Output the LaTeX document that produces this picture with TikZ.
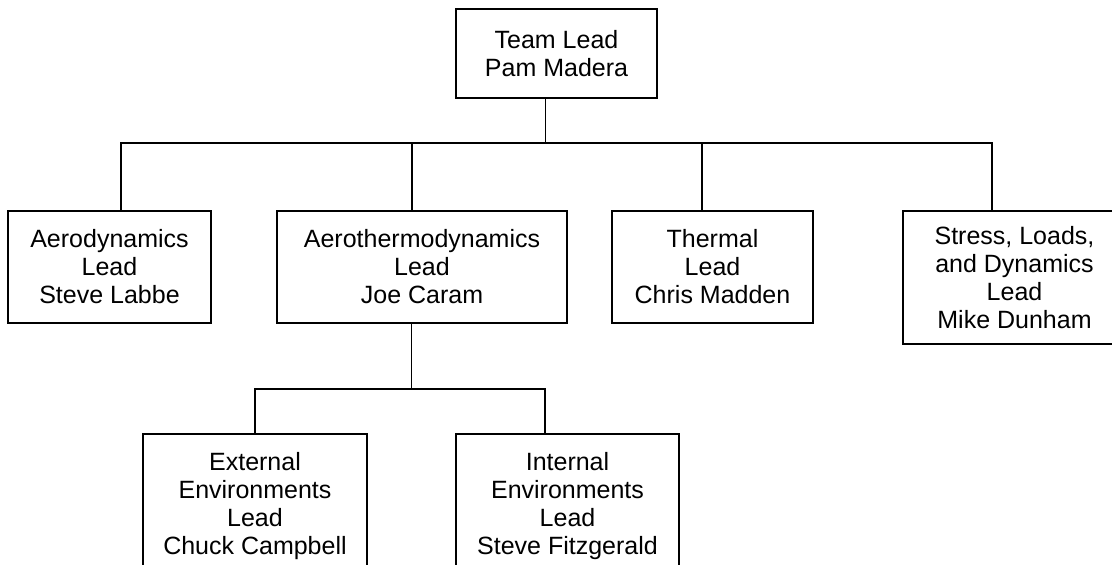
\documentclass[tikz,border=0pt]{standalone}
\usepackage{fontspec}
\setmainfont{Liberation Sans}
\usepackage{tikz}
\usetikzlibrary{positioning,calc}

\begin{document}
\begin{tikzpicture}[
  x=0.5pt, y=-0.5pt,
  box/.style={rectangle, draw=black, line width=0.9pt, fill=white, align=center, inner sep=0pt, font=\fontsize{12.5}{14}\selectfont},
  line/.style={draw=black, line width=0.9pt}
]
  \useasboundingbox (0,0) rectangle (1112,564);
  \clip (0,0) rectangle (1112,564);

  \node[box, minimum width=100.5pt, minimum height=44.5pt] (lead) at (556.5,53.5) {Team Lead\\Pam Madera};

  \node[box, minimum width=101.5pt, minimum height=56pt] (aero) at (109.5,267) {Aerodynamics\\Lead\\Steve Labbe};
  \node[box, minimum width=145pt, minimum height=56pt] (athermo) at (422,267) {Aerothermodynamics\\Lead\\Joe Caram};
  \node[box, minimum width=100.5pt, minimum height=56pt] (thermal) at (712.5,267) {Thermal\\Lead\\Chris Madden};
  \node[box, minimum width=111.5pt, minimum height=66.5pt] (stress) at (1014.5,277.5) {Stress, Loads,\\and Dynamics\\Lead\\Mike Dunham};

  \node[box, minimum width=112pt, minimum height=72pt] (extenv) at (255,506) {External\\Environments\\Lead\\Chuck Campbell};
  \node[box, minimum width=111.5pt, minimum height=72pt] (intenv) at (567.5,506) {Internal\\Environments\\Lead\\Steve Fitzgerald};

  \coordinate (top) at (545.5,143);
  \coordinate (b1) at (121,143);
  \coordinate (b2) at (412,143);
  \coordinate (b3) at (702,143);
  \coordinate (b4) at (992,143);
  \coordinate (sub) at (411.5,389);
  \coordinate (s1) at (255,389);
  \coordinate (s2) at (545,389);

  \draw[line] (lead.south -| top) -- (top);
  \draw[line] (b1 |- aero.north) -- (b1) -- (b4) -- (b4 |- stress.north);
  \draw[line] (b2) -- (b2 |- athermo.north);
  \draw[line] (b3) -- (b3 |- thermal.north);

  \draw[line] (athermo.south -| sub) -- (sub);
  \draw[line] (s1 |- extenv.north) -- (s1) -- (s2) -- (s2 |- intenv.north);
\end{tikzpicture}
\end{document}
